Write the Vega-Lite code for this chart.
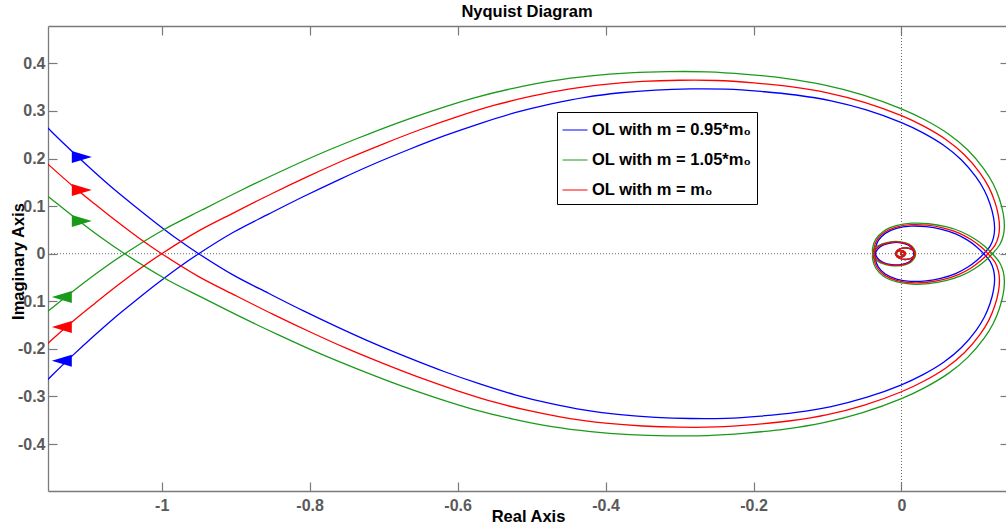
{
  "$schema": "https://vega.github.io/schema/vega-lite/v6.json",
  "width": 958,
  "height": 465,
  "autosize": "none",
  "padding": {"left": 48, "top": 26, "right": 0, "bottom": 35},
  "background": "white",
  "title": {"text": "Nyquist Diagram", "font": "Liberation Sans", "fontSize": 16.5, "fontWeight": "bold", "color": "black", "anchor": "middle", "baseline": "alphabetic", "offset": 7.5, "dy": 16},
  "config": {
    "view": {"stroke": null},
    "axis": {"grid": false, "labelFont": "Liberation Sans", "labelFontSize": 16, "labelFontWeight": "bold", "labelColor": "#5a5a5a", "domainColor": "#7a7a7a", "domainWidth": 1.3, "tickColor": "#7a7a7a", "tickWidth": 1.2, "titleFont": "Liberation Sans", "titleFontSize": 16.5, "titleFontWeight": "bold", "titleColor": "black"}
  },
  "datasets": {
    "zero": [{"x": 0, "y": 0}],
    "arrows": [
      {"s": "b", "d": "r", "x": -1.108, "y": 0.203},
      {"s": "r", "d": "r", "x": -1.108, "y": 0.134},
      {"s": "g", "d": "r", "x": -1.108, "y": 0.069},
      {"s": "b", "d": "l", "x": -1.135, "y": -0.225},
      {"s": "r", "d": "l", "x": -1.135, "y": -0.154},
      {"s": "g", "d": "l", "x": -1.135, "y": -0.091}
    ],
    "curves": [
      {"s":"b","b":"m","o":1,"x":-1.178,"y":-0.302},
      {"s":"b","b":"m","o":2,"x":-1.1495,"y":-0.2575},
      {"s":"b","b":"m","o":3,"x":-1.121,"y":-0.2147},
      {"s":"b","b":"m","o":4,"x":-1.0925,"y":-0.1739},
      {"s":"b","b":"m","o":5,"x":-1.064,"y":-0.1349},
      {"s":"b","b":"m","o":6,"x":-1.0355,"y":-0.0988},
      {"s":"b","b":"m","o":7,"x":-1.007,"y":-0.0637},
      {"s":"b","b":"m","o":8,"x":-0.9785,"y":-0.0304},
      {"s":"b","b":"m","o":9,"x":-0.95,"y":0},
      {"s":"b","b":"m","o":10,"x":-0.9025,"y":0.0456},
      {"s":"b","b":"m","o":11,"x":-0.855,"y":0.0836},
      {"s":"b","b":"m","o":12,"x":-0.8075,"y":0.1207},
      {"s":"b","b":"m","o":13,"x":-0.76,"y":0.1558},
      {"s":"b","b":"m","o":14,"x":-0.7125,"y":0.189},
      {"s":"b","b":"m","o":15,"x":-0.665,"y":0.2195},
      {"s":"b","b":"m","o":16,"x":-0.6175,"y":0.248},
      {"s":"b","b":"m","o":17,"x":-0.57,"y":0.2736},
      {"s":"b","b":"m","o":18,"x":-0.5225,"y":0.2964},
      {"s":"b","b":"m","o":19,"x":-0.475,"y":0.3145},
      {"s":"b","b":"m","o":20,"x":-0.4275,"y":0.3287},
      {"s":"b","b":"m","o":21,"x":-0.38,"y":0.3382},
      {"s":"b","b":"m","o":22,"x":-0.3325,"y":0.3439},
      {"s":"b","b":"m","o":23,"x":-0.285,"y":0.3463},
      {"s":"b","b":"m","o":24,"x":-0.2375,"y":0.3458},
      {"s":"b","b":"m","o":25,"x":-0.19,"y":0.3411},
      {"s":"b","b":"m","o":26,"x":-0.1425,"y":0.3335},
      {"s":"b","b":"m","o":27,"x":-0.095,"y":0.3211},
      {"s":"b","b":"m","o":28,"x":-0.0475,"y":0.3021},
      {"s":"b","b":"m","o":29,"x":0,"y":0.2755},
      {"s":"b","b":"m","o":30,"x":0.0285,"y":0.2546},
      {"s":"b","b":"m","o":31,"x":0.057,"y":0.228},
      {"s":"b","b":"m","o":32,"x":0.0808,"y":0.1976},
      {"s":"b","b":"m","o":33,"x":0.1007,"y":0.1615},
      {"s":"b","b":"m","o":34,"x":0.1121,"y":0.133},
      {"s":"b","b":"m","o":35,"x":0.1197,"y":0.1045},
      {"s":"b","b":"m","o":36,"x":0.1245,"y":0.076},
      {"s":"b","b":"m","o":37,"x":0.1259,"y":0.0523},
      {"s":"b","b":"m","o":38,"x":0.1245,"y":0.0342},
      {"s":"b","b":"m","o":39,"x":0.1202,"y":0.0171},
      {"s":"b","b":"m","o":40,"x":0.1112,"y":0},
      {"s":"b","b":"m","o":41,"x":0.1017,"y":-0.0143},
      {"s":"b","b":"m","o":42,"x":0.0893,"y":-0.0285},
      {"s":"b","b":"m","o":43,"x":0.0732,"y":-0.0418},
      {"s":"b","b":"m","o":44,"x":0.0542,"y":-0.0513},
      {"s":"b","b":"m","o":45,"x":0.0333,"y":-0.057},
      {"s":"b","b":"m","o":46,"x":0.0124,"y":-0.058},
      {"s":"b","b":"m","o":47,"x":-0.0067,"y":-0.0532},
      {"s":"b","b":"m","o":48,"x":-0.0219,"y":-0.0428},
      {"s":"b","b":"m","o":49,"x":-0.0314,"y":-0.0276},
      {"s":"b","b":"m","o":50,"x":-0.0352,"y":-0.0114},
      {"s":"b","b":"m","o":51,"x":-0.0352,"y":0},
      {"s":"b","b":"m","o":52,"x":-0.032,"y":0.01},
      {"s":"b","b":"m","o":53,"x":-0.025,"y":0.018},
      {"s":"b","b":"m","o":54,"x":-0.013,"y":0.023},
      {"s":"b","b":"m","o":55,"x":-0.001,"y":0.023},
      {"s":"b","b":"m","o":56,"x":0.0095,"y":0.018},
      {"s":"b","b":"m","o":57,"x":0.015,"y":0.0095},
      {"s":"b","b":"m","o":58,"x":0.017,"y":0},
      {"s":"b","b":"m","o":59,"x":0.015,"y":-0.008},
      {"s":"b","b":"m","o":60,"x":0.007,"y":-0.012},
      {"s":"b","b":"m","o":61,"x":-0.002,"y":-0.01},
      {"s":"b","b":"m","o":62,"x":-0.007,"y":-0.004},
      {"s":"b","b":"m","o":63,"x":-0.007,"y":0.002},
      {"s":"b","b":"m","o":64,"x":-0.003,"y":0.006},
      {"s":"b","b":"m","o":65,"x":0.002,"y":0.006},
      {"s":"b","b":"m","o":66,"x":0.005,"y":0.002},
      {"s":"b","b":"m","o":67,"x":0.004,"y":-0.002},
      {"s":"b","b":"m","o":68,"x":0.001,"y":-0.003},
      {"s":"b","b":"m","o":69,"x":-0.001,"y":-0.001},
      {"s":"b","b":"m","o":70,"x":0,"y":0},
      {"s":"b","b":"a","o":1,"x":-1.178,"y":0.302},
      {"s":"b","b":"a","o":2,"x":-1.1495,"y":0.2575},
      {"s":"b","b":"a","o":3,"x":-1.121,"y":0.2147},
      {"s":"b","b":"a","o":4,"x":-1.0925,"y":0.1739},
      {"s":"b","b":"a","o":5,"x":-1.064,"y":0.1349},
      {"s":"b","b":"a","o":6,"x":-1.0355,"y":0.0988},
      {"s":"b","b":"a","o":7,"x":-1.007,"y":0.0637},
      {"s":"b","b":"a","o":8,"x":-0.9785,"y":0.0304},
      {"s":"b","b":"a","o":9,"x":-0.95,"y":0},
      {"s":"b","b":"a","o":10,"x":-0.9025,"y":-0.0456},
      {"s":"b","b":"a","o":11,"x":-0.855,"y":-0.0836},
      {"s":"b","b":"a","o":12,"x":-0.8075,"y":-0.1207},
      {"s":"b","b":"a","o":13,"x":-0.76,"y":-0.1558},
      {"s":"b","b":"a","o":14,"x":-0.7125,"y":-0.189},
      {"s":"b","b":"a","o":15,"x":-0.665,"y":-0.2195},
      {"s":"b","b":"a","o":16,"x":-0.6175,"y":-0.248},
      {"s":"b","b":"a","o":17,"x":-0.57,"y":-0.2736},
      {"s":"b","b":"a","o":18,"x":-0.5225,"y":-0.2964},
      {"s":"b","b":"a","o":19,"x":-0.475,"y":-0.3145},
      {"s":"b","b":"a","o":20,"x":-0.4275,"y":-0.3287},
      {"s":"b","b":"a","o":21,"x":-0.38,"y":-0.3382},
      {"s":"b","b":"a","o":22,"x":-0.3325,"y":-0.3439},
      {"s":"b","b":"a","o":23,"x":-0.285,"y":-0.3463},
      {"s":"b","b":"a","o":24,"x":-0.2375,"y":-0.3458},
      {"s":"b","b":"a","o":25,"x":-0.19,"y":-0.3411},
      {"s":"b","b":"a","o":26,"x":-0.1425,"y":-0.3335},
      {"s":"b","b":"a","o":27,"x":-0.095,"y":-0.3211},
      {"s":"b","b":"a","o":28,"x":-0.0475,"y":-0.3021},
      {"s":"b","b":"a","o":29,"x":0,"y":-0.2755},
      {"s":"b","b":"a","o":30,"x":0.0285,"y":-0.2546},
      {"s":"b","b":"a","o":31,"x":0.057,"y":-0.228},
      {"s":"b","b":"a","o":32,"x":0.0808,"y":-0.1976},
      {"s":"b","b":"a","o":33,"x":0.1007,"y":-0.1615},
      {"s":"b","b":"a","o":34,"x":0.1121,"y":-0.133},
      {"s":"b","b":"a","o":35,"x":0.1197,"y":-0.1045},
      {"s":"b","b":"a","o":36,"x":0.1245,"y":-0.076},
      {"s":"b","b":"a","o":37,"x":0.1259,"y":-0.0523},
      {"s":"b","b":"a","o":38,"x":0.1245,"y":-0.0342},
      {"s":"b","b":"a","o":39,"x":0.1202,"y":-0.0171},
      {"s":"b","b":"a","o":40,"x":0.1112,"y":0},
      {"s":"b","b":"a","o":41,"x":0.1017,"y":0.0143},
      {"s":"b","b":"a","o":42,"x":0.0893,"y":0.0285},
      {"s":"b","b":"a","o":43,"x":0.0732,"y":0.0418},
      {"s":"b","b":"a","o":44,"x":0.0542,"y":0.0513},
      {"s":"b","b":"a","o":45,"x":0.0333,"y":0.057},
      {"s":"b","b":"a","o":46,"x":0.0124,"y":0.058},
      {"s":"b","b":"a","o":47,"x":-0.0067,"y":0.0532},
      {"s":"b","b":"a","o":48,"x":-0.0219,"y":0.0428},
      {"s":"b","b":"a","o":49,"x":-0.0314,"y":0.0276},
      {"s":"b","b":"a","o":50,"x":-0.0352,"y":0.0114},
      {"s":"b","b":"a","o":51,"x":-0.0352,"y":0},
      {"s":"b","b":"a","o":52,"x":-0.032,"y":-0.01},
      {"s":"b","b":"a","o":53,"x":-0.025,"y":-0.018},
      {"s":"b","b":"a","o":54,"x":-0.013,"y":-0.023},
      {"s":"b","b":"a","o":55,"x":-0.001,"y":-0.023},
      {"s":"b","b":"a","o":56,"x":0.0095,"y":-0.018},
      {"s":"b","b":"a","o":57,"x":0.015,"y":-0.0095},
      {"s":"b","b":"a","o":58,"x":0.017,"y":0},
      {"s":"b","b":"a","o":59,"x":0.015,"y":0.008},
      {"s":"b","b":"a","o":60,"x":0.007,"y":0.012},
      {"s":"b","b":"a","o":61,"x":-0.002,"y":0.01},
      {"s":"b","b":"a","o":62,"x":-0.007,"y":0.004},
      {"s":"b","b":"a","o":63,"x":-0.007,"y":-0.002},
      {"s":"b","b":"a","o":64,"x":-0.003,"y":-0.006},
      {"s":"b","b":"a","o":65,"x":0.002,"y":-0.006},
      {"s":"b","b":"a","o":66,"x":0.005,"y":-0.002},
      {"s":"b","b":"a","o":67,"x":0.004,"y":0.002},
      {"s":"b","b":"a","o":68,"x":0.001,"y":0.003},
      {"s":"b","b":"a","o":69,"x":-0.001,"y":0.001},
      {"s":"b","b":"a","o":70,"x":0,"y":0},
      {"s":"g","b":"m","o":1,"x":-1.302,"y":-0.3339},
      {"s":"g","b":"m","o":2,"x":-1.2705,"y":-0.2846},
      {"s":"g","b":"m","o":3,"x":-1.239,"y":-0.2373},
      {"s":"g","b":"m","o":4,"x":-1.2075,"y":-0.1922},
      {"s":"g","b":"m","o":5,"x":-1.176,"y":-0.1491},
      {"s":"g","b":"m","o":6,"x":-1.1445,"y":-0.1092},
      {"s":"g","b":"m","o":7,"x":-1.113,"y":-0.0704},
      {"s":"g","b":"m","o":8,"x":-1.0815,"y":-0.0336},
      {"s":"g","b":"m","o":9,"x":-1.05,"y":0},
      {"s":"g","b":"m","o":10,"x":-0.9975,"y":0.0504},
      {"s":"g","b":"m","o":11,"x":-0.945,"y":0.0924},
      {"s":"g","b":"m","o":12,"x":-0.8925,"y":0.1334},
      {"s":"g","b":"m","o":13,"x":-0.84,"y":0.1722},
      {"s":"g","b":"m","o":14,"x":-0.7875,"y":0.209},
      {"s":"g","b":"m","o":15,"x":-0.735,"y":0.2426},
      {"s":"g","b":"m","o":16,"x":-0.6825,"y":0.2741},
      {"s":"g","b":"m","o":17,"x":-0.63,"y":0.3024},
      {"s":"g","b":"m","o":18,"x":-0.5775,"y":0.3276},
      {"s":"g","b":"m","o":19,"x":-0.525,"y":0.3476},
      {"s":"g","b":"m","o":20,"x":-0.4725,"y":0.3633},
      {"s":"g","b":"m","o":21,"x":-0.42,"y":0.3738},
      {"s":"g","b":"m","o":22,"x":-0.3675,"y":0.3801},
      {"s":"g","b":"m","o":23,"x":-0.315,"y":0.3827},
      {"s":"g","b":"m","o":24,"x":-0.2625,"y":0.3822},
      {"s":"g","b":"m","o":25,"x":-0.21,"y":0.377},
      {"s":"g","b":"m","o":26,"x":-0.1575,"y":0.3686},
      {"s":"g","b":"m","o":27,"x":-0.105,"y":0.3549},
      {"s":"g","b":"m","o":28,"x":-0.0525,"y":0.3339},
      {"s":"g","b":"m","o":29,"x":0,"y":0.3045},
      {"s":"g","b":"m","o":30,"x":0.0315,"y":0.2814},
      {"s":"g","b":"m","o":31,"x":0.063,"y":0.252},
      {"s":"g","b":"m","o":32,"x":0.0893,"y":0.2184},
      {"s":"g","b":"m","o":33,"x":0.1113,"y":0.1785},
      {"s":"g","b":"m","o":34,"x":0.1239,"y":0.147},
      {"s":"g","b":"m","o":35,"x":0.1323,"y":0.1155},
      {"s":"g","b":"m","o":36,"x":0.1376,"y":0.084},
      {"s":"g","b":"m","o":37,"x":0.1391,"y":0.0578},
      {"s":"g","b":"m","o":38,"x":0.1376,"y":0.0378},
      {"s":"g","b":"m","o":39,"x":0.1328,"y":0.0189},
      {"s":"g","b":"m","o":40,"x":0.1229,"y":0},
      {"s":"g","b":"m","o":41,"x":0.1124,"y":-0.0158},
      {"s":"g","b":"m","o":42,"x":0.0987,"y":-0.0315},
      {"s":"g","b":"m","o":43,"x":0.0809,"y":-0.0462},
      {"s":"g","b":"m","o":44,"x":0.0599,"y":-0.0567},
      {"s":"g","b":"m","o":45,"x":0.0368,"y":-0.063},
      {"s":"g","b":"m","o":46,"x":0.0137,"y":-0.0641},
      {"s":"g","b":"m","o":47,"x":-0.0074,"y":-0.0588},
      {"s":"g","b":"m","o":48,"x":-0.0242,"y":-0.0473},
      {"s":"g","b":"m","o":49,"x":-0.0347,"y":-0.0305},
      {"s":"g","b":"m","o":50,"x":-0.0389,"y":-0.0126},
      {"s":"g","b":"m","o":51,"x":-0.0389,"y":0},
      {"s":"g","b":"m","o":52,"x":-0.036,"y":0.012},
      {"s":"g","b":"m","o":53,"x":-0.027,"y":0.02},
      {"s":"g","b":"m","o":54,"x":-0.015,"y":0.025},
      {"s":"g","b":"m","o":55,"x":-0.001,"y":0.025},
      {"s":"g","b":"m","o":56,"x":0.0105,"y":0.02},
      {"s":"g","b":"m","o":57,"x":0.017,"y":0.0105},
      {"s":"g","b":"m","o":58,"x":0.019,"y":0},
      {"s":"g","b":"m","o":59,"x":0.015,"y":-0.008},
      {"s":"g","b":"m","o":60,"x":0.007,"y":-0.012},
      {"s":"g","b":"m","o":61,"x":-0.002,"y":-0.01},
      {"s":"g","b":"m","o":62,"x":-0.007,"y":-0.004},
      {"s":"g","b":"m","o":63,"x":-0.007,"y":0.002},
      {"s":"g","b":"m","o":64,"x":-0.003,"y":0.006},
      {"s":"g","b":"m","o":65,"x":0.002,"y":0.006},
      {"s":"g","b":"m","o":66,"x":0.005,"y":0.002},
      {"s":"g","b":"m","o":67,"x":0.004,"y":-0.002},
      {"s":"g","b":"m","o":68,"x":0.001,"y":-0.003},
      {"s":"g","b":"m","o":69,"x":-0.001,"y":-0.001},
      {"s":"g","b":"m","o":70,"x":0,"y":0},
      {"s":"g","b":"a","o":1,"x":-1.302,"y":0.3339},
      {"s":"g","b":"a","o":2,"x":-1.2705,"y":0.2846},
      {"s":"g","b":"a","o":3,"x":-1.239,"y":0.2373},
      {"s":"g","b":"a","o":4,"x":-1.2075,"y":0.1922},
      {"s":"g","b":"a","o":5,"x":-1.176,"y":0.1491},
      {"s":"g","b":"a","o":6,"x":-1.1445,"y":0.1092},
      {"s":"g","b":"a","o":7,"x":-1.113,"y":0.0704},
      {"s":"g","b":"a","o":8,"x":-1.0815,"y":0.0336},
      {"s":"g","b":"a","o":9,"x":-1.05,"y":0},
      {"s":"g","b":"a","o":10,"x":-0.9975,"y":-0.0504},
      {"s":"g","b":"a","o":11,"x":-0.945,"y":-0.0924},
      {"s":"g","b":"a","o":12,"x":-0.8925,"y":-0.1334},
      {"s":"g","b":"a","o":13,"x":-0.84,"y":-0.1722},
      {"s":"g","b":"a","o":14,"x":-0.7875,"y":-0.209},
      {"s":"g","b":"a","o":15,"x":-0.735,"y":-0.2426},
      {"s":"g","b":"a","o":16,"x":-0.6825,"y":-0.2741},
      {"s":"g","b":"a","o":17,"x":-0.63,"y":-0.3024},
      {"s":"g","b":"a","o":18,"x":-0.5775,"y":-0.3276},
      {"s":"g","b":"a","o":19,"x":-0.525,"y":-0.3476},
      {"s":"g","b":"a","o":20,"x":-0.4725,"y":-0.3633},
      {"s":"g","b":"a","o":21,"x":-0.42,"y":-0.3738},
      {"s":"g","b":"a","o":22,"x":-0.3675,"y":-0.3801},
      {"s":"g","b":"a","o":23,"x":-0.315,"y":-0.3827},
      {"s":"g","b":"a","o":24,"x":-0.2625,"y":-0.3822},
      {"s":"g","b":"a","o":25,"x":-0.21,"y":-0.377},
      {"s":"g","b":"a","o":26,"x":-0.1575,"y":-0.3686},
      {"s":"g","b":"a","o":27,"x":-0.105,"y":-0.3549},
      {"s":"g","b":"a","o":28,"x":-0.0525,"y":-0.3339},
      {"s":"g","b":"a","o":29,"x":0,"y":-0.3045},
      {"s":"g","b":"a","o":30,"x":0.0315,"y":-0.2814},
      {"s":"g","b":"a","o":31,"x":0.063,"y":-0.252},
      {"s":"g","b":"a","o":32,"x":0.0893,"y":-0.2184},
      {"s":"g","b":"a","o":33,"x":0.1113,"y":-0.1785},
      {"s":"g","b":"a","o":34,"x":0.1239,"y":-0.147},
      {"s":"g","b":"a","o":35,"x":0.1323,"y":-0.1155},
      {"s":"g","b":"a","o":36,"x":0.1376,"y":-0.084},
      {"s":"g","b":"a","o":37,"x":0.1391,"y":-0.0578},
      {"s":"g","b":"a","o":38,"x":0.1376,"y":-0.0378},
      {"s":"g","b":"a","o":39,"x":0.1328,"y":-0.0189},
      {"s":"g","b":"a","o":40,"x":0.1229,"y":0},
      {"s":"g","b":"a","o":41,"x":0.1124,"y":0.0158},
      {"s":"g","b":"a","o":42,"x":0.0987,"y":0.0315},
      {"s":"g","b":"a","o":43,"x":0.0809,"y":0.0462},
      {"s":"g","b":"a","o":44,"x":0.0599,"y":0.0567},
      {"s":"g","b":"a","o":45,"x":0.0368,"y":0.063},
      {"s":"g","b":"a","o":46,"x":0.0137,"y":0.0641},
      {"s":"g","b":"a","o":47,"x":-0.0074,"y":0.0588},
      {"s":"g","b":"a","o":48,"x":-0.0242,"y":0.0473},
      {"s":"g","b":"a","o":49,"x":-0.0347,"y":0.0305},
      {"s":"g","b":"a","o":50,"x":-0.0389,"y":0.0126},
      {"s":"g","b":"a","o":51,"x":-0.0389,"y":0},
      {"s":"g","b":"a","o":52,"x":-0.036,"y":-0.012},
      {"s":"g","b":"a","o":53,"x":-0.027,"y":-0.02},
      {"s":"g","b":"a","o":54,"x":-0.015,"y":-0.025},
      {"s":"g","b":"a","o":55,"x":-0.001,"y":-0.025},
      {"s":"g","b":"a","o":56,"x":0.0105,"y":-0.02},
      {"s":"g","b":"a","o":57,"x":0.017,"y":-0.0105},
      {"s":"g","b":"a","o":58,"x":0.019,"y":0},
      {"s":"g","b":"a","o":59,"x":0.015,"y":0.008},
      {"s":"g","b":"a","o":60,"x":0.007,"y":0.012},
      {"s":"g","b":"a","o":61,"x":-0.002,"y":0.01},
      {"s":"g","b":"a","o":62,"x":-0.007,"y":0.004},
      {"s":"g","b":"a","o":63,"x":-0.007,"y":-0.002},
      {"s":"g","b":"a","o":64,"x":-0.003,"y":-0.006},
      {"s":"g","b":"a","o":65,"x":0.002,"y":-0.006},
      {"s":"g","b":"a","o":66,"x":0.005,"y":-0.002},
      {"s":"g","b":"a","o":67,"x":0.004,"y":0.002},
      {"s":"g","b":"a","o":68,"x":0.001,"y":0.003},
      {"s":"g","b":"a","o":69,"x":-0.001,"y":0.001},
      {"s":"g","b":"a","o":70,"x":0,"y":0},
      {"s":"r","b":"m","o":1,"x":-1.24,"y":-0.318},
      {"s":"r","b":"m","o":2,"x":-1.21,"y":-0.271},
      {"s":"r","b":"m","o":3,"x":-1.18,"y":-0.226},
      {"s":"r","b":"m","o":4,"x":-1.15,"y":-0.183},
      {"s":"r","b":"m","o":5,"x":-1.12,"y":-0.142},
      {"s":"r","b":"m","o":6,"x":-1.09,"y":-0.104},
      {"s":"r","b":"m","o":7,"x":-1.06,"y":-0.067},
      {"s":"r","b":"m","o":8,"x":-1.03,"y":-0.032},
      {"s":"r","b":"m","o":9,"x":-1,"y":0},
      {"s":"r","b":"m","o":10,"x":-0.95,"y":0.048},
      {"s":"r","b":"m","o":11,"x":-0.9,"y":0.088},
      {"s":"r","b":"m","o":12,"x":-0.85,"y":0.127},
      {"s":"r","b":"m","o":13,"x":-0.8,"y":0.164},
      {"s":"r","b":"m","o":14,"x":-0.75,"y":0.199},
      {"s":"r","b":"m","o":15,"x":-0.7,"y":0.231},
      {"s":"r","b":"m","o":16,"x":-0.65,"y":0.261},
      {"s":"r","b":"m","o":17,"x":-0.6,"y":0.288},
      {"s":"r","b":"m","o":18,"x":-0.55,"y":0.312},
      {"s":"r","b":"m","o":19,"x":-0.5,"y":0.331},
      {"s":"r","b":"m","o":20,"x":-0.45,"y":0.346},
      {"s":"r","b":"m","o":21,"x":-0.4,"y":0.356},
      {"s":"r","b":"m","o":22,"x":-0.35,"y":0.362},
      {"s":"r","b":"m","o":23,"x":-0.3,"y":0.3645},
      {"s":"r","b":"m","o":24,"x":-0.25,"y":0.364},
      {"s":"r","b":"m","o":25,"x":-0.2,"y":0.359},
      {"s":"r","b":"m","o":26,"x":-0.15,"y":0.351},
      {"s":"r","b":"m","o":27,"x":-0.1,"y":0.338},
      {"s":"r","b":"m","o":28,"x":-0.05,"y":0.318},
      {"s":"r","b":"m","o":29,"x":0,"y":0.29},
      {"s":"r","b":"m","o":30,"x":0.03,"y":0.268},
      {"s":"r","b":"m","o":31,"x":0.06,"y":0.24},
      {"s":"r","b":"m","o":32,"x":0.085,"y":0.208},
      {"s":"r","b":"m","o":33,"x":0.106,"y":0.17},
      {"s":"r","b":"m","o":34,"x":0.118,"y":0.14},
      {"s":"r","b":"m","o":35,"x":0.126,"y":0.11},
      {"s":"r","b":"m","o":36,"x":0.131,"y":0.08},
      {"s":"r","b":"m","o":37,"x":0.1325,"y":0.055},
      {"s":"r","b":"m","o":38,"x":0.131,"y":0.036},
      {"s":"r","b":"m","o":39,"x":0.1265,"y":0.018},
      {"s":"r","b":"m","o":40,"x":0.117,"y":0},
      {"s":"r","b":"m","o":41,"x":0.107,"y":-0.015},
      {"s":"r","b":"m","o":42,"x":0.094,"y":-0.03},
      {"s":"r","b":"m","o":43,"x":0.077,"y":-0.044},
      {"s":"r","b":"m","o":44,"x":0.057,"y":-0.054},
      {"s":"r","b":"m","o":45,"x":0.035,"y":-0.06},
      {"s":"r","b":"m","o":46,"x":0.013,"y":-0.061},
      {"s":"r","b":"m","o":47,"x":-0.007,"y":-0.056},
      {"s":"r","b":"m","o":48,"x":-0.023,"y":-0.045},
      {"s":"r","b":"m","o":49,"x":-0.033,"y":-0.029},
      {"s":"r","b":"m","o":50,"x":-0.037,"y":-0.012},
      {"s":"r","b":"m","o":51,"x":-0.037,"y":0},
      {"s":"r","b":"m","o":52,"x":-0.034,"y":0.011},
      {"s":"r","b":"m","o":53,"x":-0.026,"y":0.019},
      {"s":"r","b":"m","o":54,"x":-0.014,"y":0.024},
      {"s":"r","b":"m","o":55,"x":-0.001,"y":0.024},
      {"s":"r","b":"m","o":56,"x":0.01,"y":0.019},
      {"s":"r","b":"m","o":57,"x":0.016,"y":0.01},
      {"s":"r","b":"m","o":58,"x":0.018,"y":0},
      {"s":"r","b":"m","o":59,"x":0.015,"y":-0.008},
      {"s":"r","b":"m","o":60,"x":0.007,"y":-0.012},
      {"s":"r","b":"m","o":61,"x":-0.002,"y":-0.01},
      {"s":"r","b":"m","o":62,"x":-0.007,"y":-0.004},
      {"s":"r","b":"m","o":63,"x":-0.007,"y":0.002},
      {"s":"r","b":"m","o":64,"x":-0.003,"y":0.006},
      {"s":"r","b":"m","o":65,"x":0.002,"y":0.006},
      {"s":"r","b":"m","o":66,"x":0.005,"y":0.002},
      {"s":"r","b":"m","o":67,"x":0.004,"y":-0.002},
      {"s":"r","b":"m","o":68,"x":0.001,"y":-0.003},
      {"s":"r","b":"m","o":69,"x":-0.001,"y":-0.001},
      {"s":"r","b":"m","o":70,"x":0,"y":0},
      {"s":"r","b":"a","o":1,"x":-1.24,"y":0.318},
      {"s":"r","b":"a","o":2,"x":-1.21,"y":0.271},
      {"s":"r","b":"a","o":3,"x":-1.18,"y":0.226},
      {"s":"r","b":"a","o":4,"x":-1.15,"y":0.183},
      {"s":"r","b":"a","o":5,"x":-1.12,"y":0.142},
      {"s":"r","b":"a","o":6,"x":-1.09,"y":0.104},
      {"s":"r","b":"a","o":7,"x":-1.06,"y":0.067},
      {"s":"r","b":"a","o":8,"x":-1.03,"y":0.032},
      {"s":"r","b":"a","o":9,"x":-1,"y":0},
      {"s":"r","b":"a","o":10,"x":-0.95,"y":-0.048},
      {"s":"r","b":"a","o":11,"x":-0.9,"y":-0.088},
      {"s":"r","b":"a","o":12,"x":-0.85,"y":-0.127},
      {"s":"r","b":"a","o":13,"x":-0.8,"y":-0.164},
      {"s":"r","b":"a","o":14,"x":-0.75,"y":-0.199},
      {"s":"r","b":"a","o":15,"x":-0.7,"y":-0.231},
      {"s":"r","b":"a","o":16,"x":-0.65,"y":-0.261},
      {"s":"r","b":"a","o":17,"x":-0.6,"y":-0.288},
      {"s":"r","b":"a","o":18,"x":-0.55,"y":-0.312},
      {"s":"r","b":"a","o":19,"x":-0.5,"y":-0.331},
      {"s":"r","b":"a","o":20,"x":-0.45,"y":-0.346},
      {"s":"r","b":"a","o":21,"x":-0.4,"y":-0.356},
      {"s":"r","b":"a","o":22,"x":-0.35,"y":-0.362},
      {"s":"r","b":"a","o":23,"x":-0.3,"y":-0.3645},
      {"s":"r","b":"a","o":24,"x":-0.25,"y":-0.364},
      {"s":"r","b":"a","o":25,"x":-0.2,"y":-0.359},
      {"s":"r","b":"a","o":26,"x":-0.15,"y":-0.351},
      {"s":"r","b":"a","o":27,"x":-0.1,"y":-0.338},
      {"s":"r","b":"a","o":28,"x":-0.05,"y":-0.318},
      {"s":"r","b":"a","o":29,"x":0,"y":-0.29},
      {"s":"r","b":"a","o":30,"x":0.03,"y":-0.268},
      {"s":"r","b":"a","o":31,"x":0.06,"y":-0.24},
      {"s":"r","b":"a","o":32,"x":0.085,"y":-0.208},
      {"s":"r","b":"a","o":33,"x":0.106,"y":-0.17},
      {"s":"r","b":"a","o":34,"x":0.118,"y":-0.14},
      {"s":"r","b":"a","o":35,"x":0.126,"y":-0.11},
      {"s":"r","b":"a","o":36,"x":0.131,"y":-0.08},
      {"s":"r","b":"a","o":37,"x":0.1325,"y":-0.055},
      {"s":"r","b":"a","o":38,"x":0.131,"y":-0.036},
      {"s":"r","b":"a","o":39,"x":0.1265,"y":-0.018},
      {"s":"r","b":"a","o":40,"x":0.117,"y":0},
      {"s":"r","b":"a","o":41,"x":0.107,"y":0.015},
      {"s":"r","b":"a","o":42,"x":0.094,"y":0.03},
      {"s":"r","b":"a","o":43,"x":0.077,"y":0.044},
      {"s":"r","b":"a","o":44,"x":0.057,"y":0.054},
      {"s":"r","b":"a","o":45,"x":0.035,"y":0.06},
      {"s":"r","b":"a","o":46,"x":0.013,"y":0.061},
      {"s":"r","b":"a","o":47,"x":-0.007,"y":0.056},
      {"s":"r","b":"a","o":48,"x":-0.023,"y":0.045},
      {"s":"r","b":"a","o":49,"x":-0.033,"y":0.029},
      {"s":"r","b":"a","o":50,"x":-0.037,"y":0.012},
      {"s":"r","b":"a","o":51,"x":-0.037,"y":0},
      {"s":"r","b":"a","o":52,"x":-0.034,"y":-0.011},
      {"s":"r","b":"a","o":53,"x":-0.026,"y":-0.019},
      {"s":"r","b":"a","o":54,"x":-0.014,"y":-0.024},
      {"s":"r","b":"a","o":55,"x":-0.001,"y":-0.024},
      {"s":"r","b":"a","o":56,"x":0.01,"y":-0.019},
      {"s":"r","b":"a","o":57,"x":0.016,"y":-0.01},
      {"s":"r","b":"a","o":58,"x":0.018,"y":0},
      {"s":"r","b":"a","o":59,"x":0.015,"y":0.008},
      {"s":"r","b":"a","o":60,"x":0.007,"y":0.012},
      {"s":"r","b":"a","o":61,"x":-0.002,"y":0.01},
      {"s":"r","b":"a","o":62,"x":-0.007,"y":0.004},
      {"s":"r","b":"a","o":63,"x":-0.007,"y":-0.002},
      {"s":"r","b":"a","o":64,"x":-0.003,"y":-0.006},
      {"s":"r","b":"a","o":65,"x":0.002,"y":-0.006},
      {"s":"r","b":"a","o":66,"x":0.005,"y":-0.002},
      {"s":"r","b":"a","o":67,"x":0.004,"y":0.002},
      {"s":"r","b":"a","o":68,"x":0.001,"y":0.003},
      {"s":"r","b":"a","o":69,"x":-0.001,"y":0.001},
      {"s":"r","b":"a","o":70,"x":0,"y":0}
    ]
  },
  "layer": [
    {
      "data": {"name": "zero"},
      "mark": {"type": "rule", "color": "#666666", "strokeWidth": 1, "strokeDash": [1, 2]},
      "encoding": {
        "x": {"field": "x", "type": "quantitative", "scale": {"domain": [-1.1537, 0.1413], "nice": false, "zero": false}, "axis": null}
      }
    },
    {
      "data": {"name": "zero"},
      "mark": {"type": "rule", "color": "#666666", "strokeWidth": 1, "strokeDash": [1, 2]},
      "encoding": {
        "y": {"field": "y", "type": "quantitative", "scale": {"domain": [-0.4986, 0.4785], "nice": false, "zero": false}, "axis": null}
      }
    },
    {
      "data": {"name": "curves"},
      "mark": {"type": "line", "strokeWidth": 1.3, "interpolate": "catmull-rom", "clip": true},
      "encoding": {
        "x": {"field": "x", "type": "quantitative", "scale": {"domain": [-1.1537, 0.1413], "nice": false, "zero": false},
          "axis": {"orient": "bottom", "values": [-1, -0.8, -0.6, -0.4, -0.2, 0], "labelExpr": "'' + datum.value", "tickSize": -9, "labelPadding": 15, "title": "Real Axis", "titleX": 480, "titleY": 30.5, "titleBaseline": "alphabetic", "titleAlign": "center"}},
        "y": {"field": "y", "type": "quantitative", "scale": {"domain": [-0.4986, 0.4785], "nice": false, "zero": false},
          "axis": {"orient": "left", "values": [-0.4, -0.3, -0.2, -0.1, 0, 0.1, 0.2, 0.3, 0.4], "labelExpr": "'' + datum.value", "tickSize": -9, "labelPadding": 12, "title": "Imaginary Axis", "titleX": -24.5, "titleY": 235, "titleBaseline": "alphabetic", "titleAlign": "center", "titleAngle": -90}},
        "color": {"field": "s", "type": "nominal", "scale": {"domain": ["b", "g", "r"], "range": ["#0000ff", "#1a9a1a", "#ff0000"]},
          "legend": {"orient": "none", "legendX": 509, "legendY": 86, "title": null, "symbolType": "stroke", "symbolSize": 625, "symbolStrokeWidth": 1, "labelFont": "Liberation Sans", "labelFontSize": 16.5, "labelFontWeight": "bold", "labelColor": "black", "strokeColor": "black", "fillColor": "white", "padding": 5, "rowPadding": 8, "labelOffset": 4, "labelLimit": 300,
            "labelExpr": "datum.label == 'b' ? 'OL with m = 0.95*m₀' : datum.label == 'g' ? 'OL with m = 1.05*m₀' : 'OL with m = m₀'"}},
        "detail": {"field": "b"},
        "order": {"field": "o", "type": "quantitative"}
      }
    },
    {
      "data": {"name": "arrows"},
      "mark": {"type": "point", "filled": true, "opacity": 1, "size": 400, "strokeWidth": 0},
      "encoding": {
        "x": {"field": "x", "type": "quantitative", "scale": {"domain": [-1.1537, 0.1413], "nice": false, "zero": false},
          "axis": {"orient": "top", "values": [-1, -0.8, -0.6, -0.4, -0.2, 0], "labels": false, "title": null, "tickSize": -9}},
        "y": {"field": "y", "type": "quantitative", "scale": {"domain": [-0.4986, 0.4785], "nice": false, "zero": false},
          "axis": {"orient": "right", "values": [-0.4, -0.3, -0.2, -0.1, 0, 0.1, 0.2, 0.3, 0.4], "labels": false, "title": null, "domain": false, "tickSize": -6}},
        "color": {"field": "s", "type": "nominal", "scale": {"domain": ["b", "g", "r"], "range": ["#0000ff", "#1a9a1a", "#ff0000"]}, "legend": null},
        "shape": {"field": "d", "type": "nominal", "scale": {"domain": ["r", "l"], "range": ["M -1 -0.6 L 1 0 L -1 0.6 Z", "M 1 -0.6 L -1 0 L 1 0.6 Z"]}, "legend": null}
      }
    }
  ],
  "resolve": {"axis": {"x": "independent", "y": "independent"}, "legend": {"color": "independent"}}
}
